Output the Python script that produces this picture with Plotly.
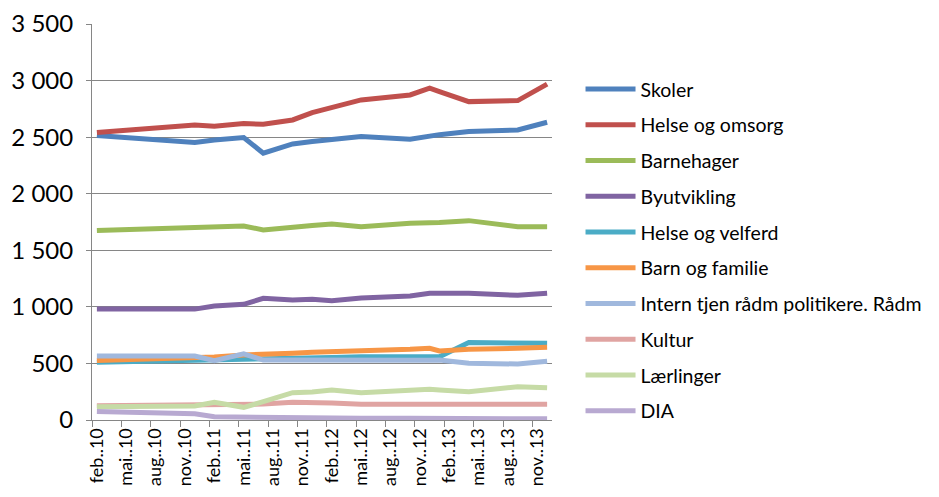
import plotly.graph_objects as go

# Alle måneder på aksen (feb..10 - des..13)
mnd = ['jan', 'feb', 'mar', 'apr', 'mai', 'jun', 'jul', 'aug', 'sep', 'okt', 'nov', 'des']
kategorier = []
for aar in [10, 11, 12, 13]:
    for m in mnd:
        kategorier.append(f"{m}..{aar}")
kategorier = kategorier[1:]  # starter feb..10

# Måneder med registrerte verdier
maaneder = ['feb..10', 'des..10', 'feb..11', 'mai..11', 'jul..11', 'okt..11', 'des..11', 'feb..12',
            'mai..12', 'okt..12', 'des..12', 'jan..13', 'apr..13', 'sep..13', 'des..13']

skoler = [2515, 2452, 2475, 2496, 2358, 2440, 2461, 2482, 2505, 2482, 2514, 2522, 2549, 2564, 2632]
helse_omsorg = [2542, 2608, 2597, 2620, 2614, 2652, 2716, 2765, 2829, 2873, 2933, 2903, 2814, 2823, 2968]
barnehager = [1674, 1700, 1698, 1715, 1680, 1709, 1720, 1733, 1709, 1739, 1739, 1745, 1762, 1709, 1709]
byutvikling = [980, 980, 1008, 1022, 1076, 1061, 1068, 1055, 1079, 1096, 1120, 1120, 1120, 1102, 1120]
helse_velferd = [510, 530, 538, 545, 545, 548, 550, 553, 558, 566, 566, 560, 684, 681, 678]
barn_familie = [525, 548, 556, 575, 578, 590, 598, 601, 613, 625, 634, 610, 625, 634, 643]
intern_tjen = [566, 566, 524, 584, 530, 528, 526, 526, 527, 528, 528, 530, 501, 495, 519]
kultur = [125, 138, 143, 147, 141, 156, 156, 150, 139, 139, 139, 139, 139, 139, 139]
laerlinger = [118, 124, 156, 112, 162, 241, 248, 265, 241, 265, 271, 265, 250, 294, 286]
dia = [75, 55, 28, 24, 22, 20, 18, 17, 15, 15, 14, 14, 13, 11, 10]

serier = [
    ("Skoler", skoler, '#4F81BD'),
    ("Helse og omsorg", helse_omsorg, '#C0504D'),
    ("Barnehager", barnehager, '#9BBB59'),
    ("Byutvikling", byutvikling, '#8064A2'),
    ("Helse og velferd", helse_velferd, '#4BACC6'),
    ("Barn og familie", barn_familie, '#F79646'),
    ("Intern tjen rådm politikere. Rådm", intern_tjen, '#A0B8DD'),
    ("Kultur", kultur, '#E0A4A2'),
    ("Lærlinger", laerlinger, '#C6DBA6'),
    ("DIA", dia, '#B8A9D1'),
]

fig = go.Figure()
for navn, verdier, farge in serier:
    fig.add_trace(go.Scatter(
        x=maaneder, y=verdier, name=navn, legendgroup=navn,
        mode='lines', line=dict(color=farge, width=5),
    ))

font = "Lato, Carlito, Calibri, sans-serif"
# siden har 8px marg rundt figuren
fig.update_layout(
    width=931, height=489,
    margin=dict(l=84, r=380, t=16, b=77),
    paper_bgcolor='white', plot_bgcolor='white',
    separators=', ',
    font=dict(family=font, color='black'),
    showlegend=True,
    legend=dict(
        x=1.062, xanchor='left', y=0.884, yanchor='top',
        font=dict(size=19.5), tracegroupgap=7.4, itemwidth=50,
    ),
    xaxis=dict(
        type='category', categoryorder='array', categoryarray=kategorier,
        range=[-0.5, len(kategorier) - 0.5],
        tickmode='linear', tick0=0, dtick=3, tickson='boundaries',
        tickangle=-90, tickfont=dict(size=18),
        ticks='outside', ticklen=6, tickcolor='#868686',
        showline=True, linecolor='#868686', linewidth=1,
        showgrid=False, automargin=False,
    ),
    yaxis=dict(
        range=[0, 3500], dtick=500, tickformat=',d',
        tickfont=dict(size=24), ticks='outside', ticklen=5, tickcolor='#868686',
        ticklabelstandoff=8,
        showline=True, linecolor='#868686', linewidth=1,
        gridcolor='#868686', gridwidth=1, zeroline=False, automargin=False,
    ),
)

fig.write_html("out.html")
